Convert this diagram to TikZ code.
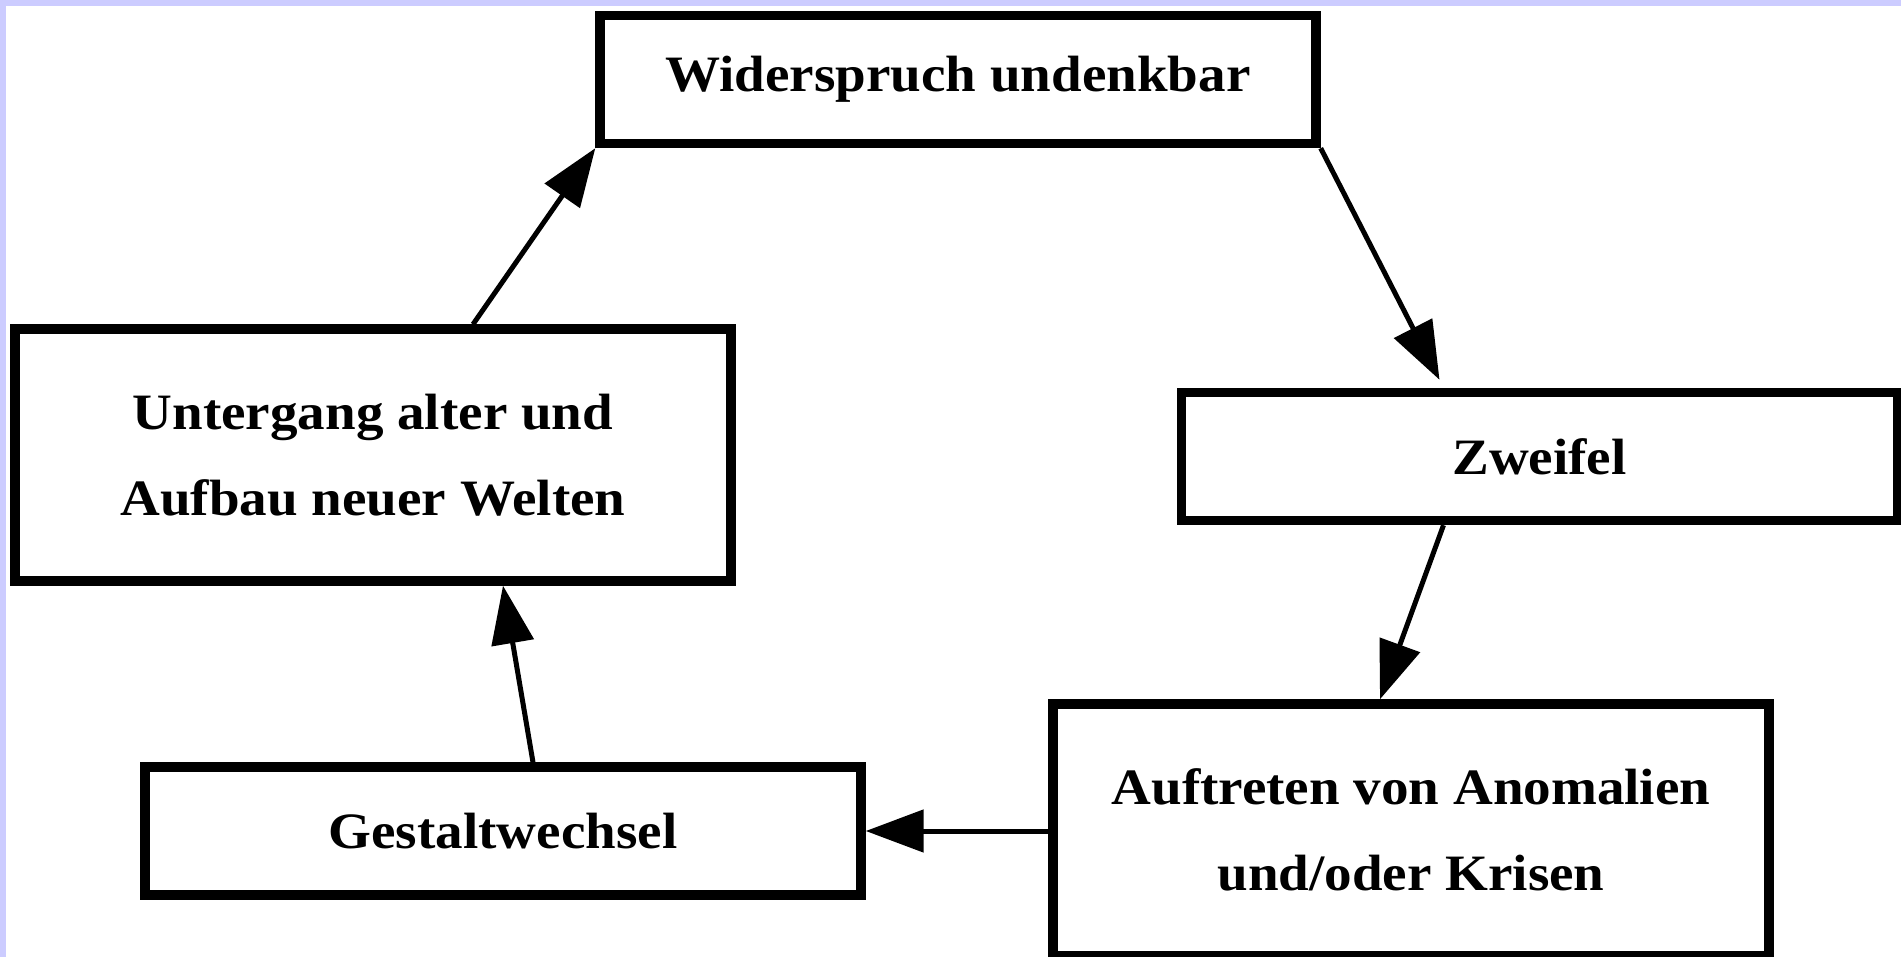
\documentclass[tikz,border=0pt]{standalone}
\usepackage{fontspec}
\setmainfont{Liberation Serif}[FakeStretch=1.08]
\usetikzlibrary{arrows.meta}
\definecolor{framelav}{HTML}{CCCCFF}
\begin{document}
\begin{tikzpicture}[x=0.5pt,y=-0.5pt,
  box/.style={draw=black, line width=4.7pt, fill=white, rectangle, inner sep=0pt,
    minimum width=358pt, align=center,
    font=\fontsize{25.5}{43}\selectfont\bfseries},
  onebox/.style={box, minimum height=64pt},
  twobox/.style={box, minimum height=126pt},
  conn/.style={draw=black, line width=2.5pt,
    -{Triangle[length=29pt,width=21pt]}}]
\useasboundingbox (0,0) rectangle (1901,957);
\fill[framelav] (0,0) rectangle (1901,957);
\fill[white] (6,6) rectangle (1901,957);

\node[onebox] (wid) at (958,79.5) {Widerspruch undenkbar};
\node[twobox] (unt) at (373,455) {Untergang alter und\\Aufbau neuer Welten};
\node[onebox] (zwe) at (1539.5,456.5) {Zweifel};
\node[twobox] (auf) at (1411,830) {Auftreten von Anomalien\\und/oder Krisen};
\node[onebox] (ges) at (503,831) {Gestaltwechsel};

\draw[conn] ([xshift=50pt]unt.north) -- (wid.south west);
\draw[conn] (wid.south east) -- ([xshift=-50pt,yshift=4pt]zwe.north);
\draw[conn] ([xshift=-48pt]zwe.south) -- ([xshift=-15.5pt]auf.north);
\draw[conn] (auf.west |- ges.east) -- (ges.east);
\draw[conn] ([xshift=15pt]ges.north) -- ([xshift=65pt]unt.south);
\end{tikzpicture}
\end{document}
